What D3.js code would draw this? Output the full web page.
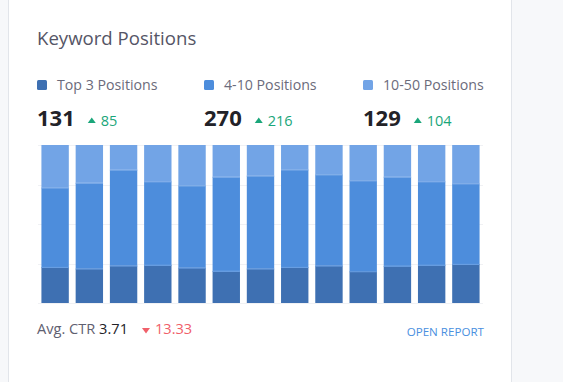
<!DOCTYPE html>
<html>
<head>
<meta charset="utf-8">
<script src="https://cdn.jsdelivr.net/npm/d3@7"></script>
<style>
  html, body { margin: 0; padding: 0; background: #f7f8fa; }
  svg { display: block; font-family: "Open Sans", "Noto Sans", sans-serif; }
</style>
</head>
<body>
<svg id="chart" width="563" height="382"></svg>
<script>
// ---- data ----
const categories = ["1","2","3","4","5","6","7","8","9","10","11","12","13"];
const seriesNames = ["Top 3 Positions", "4-10 Positions", "10-50 Positions"];
const top3 = [22.8, 21.8, 23.7, 24.1, 22.4, 20.3, 21.8, 22.8, 23.7, 20.1, 23.5, 24.1, 24.7];
const pos4to10 = [50.3, 54.3, 60.7, 52.9, 52.0, 59.6, 58.8, 61.7, 57.7, 57.5, 56.4, 52.9, 51.0];
const pos10to50 = [26.9, 23.9, 15.6, 23.0, 25.6, 20.1, 19.4, 15.5, 18.6, 22.4, 20.1, 23.0, 24.3];
const totals = ["131", "270", "129"];
const deltas = ["85", "216", "104"];
const yTicks = [0, 25, 50, 75, 100];
const ctrValue = "3.71";
const ctrDelta = "13.33";

const colors = ["#3e70b2", "#4d8ddc", "#72a4e6"];

const svg = d3.select("#chart");

// card
svg.append("rect").attr("x", 8.5).attr("y", -10).attr("width", 503).attr("height", 400)
  .attr("fill", "#ffffff").attr("stroke", "#e2e5ea");

// title
svg.append("text").attr("x", 37).attr("y", 45).text("Keyword Positions")
  .attr("font-size", 18.6).attr("fill", "#555566");

// legend + totals
const colX = [37, 204, 363];
seriesNames.forEach((name, i) => {
  const x = colX[i];
  svg.append("rect").attr("x", x).attr("y", 80).attr("width", 10).attr("height", 10)
    .attr("rx", 1.5).attr("fill", colors[i]);
  svg.append("text").attr("x", x + 20).attr("y", 89.5).text(name)
    .attr("font-size", 14.2).attr("fill", "#6b6b7b");
  const num = svg.append("text").attr("x", x).attr("y", 126).text(totals[i])
    .attr("font-size", 22).attr("font-weight", 700).attr("fill", "#222228");
  const w = num.node().getComputedTextLength();
  const tx = x + w + 13;
  svg.append("path").attr("d", `M${tx},123 L${tx + 4},117.5 L${tx + 8},123 Z`).attr("fill", "#1aa67a");
  svg.append("text").attr("x", tx + 13).attr("y", 126).text(deltas[i])
    .attr("font-size", 14.5).attr("fill", "#1aa67a");
});

// scales
const x = d3.scaleBand().domain(categories).range([38, 483]).paddingInner(0.2).paddingOuter(0.1);
const y = d3.scaleLinear().domain([0, 100]).range([303, 145]);

// gridlines
svg.append("g").selectAll("line").data(yTicks).join("line")
  .attr("x1", 38).attr("x2", 483)
  .attr("y1", d => Math.round(y(d)) + 0.5).attr("y2", d => Math.round(y(d)) + 0.5)
  .attr("stroke", "#f0f1f4");

// stacked bars
const rows = categories.map((c, i) => ({ cat: c, a: top3[i], b: pos4to10[i], c2: pos10to50[i] }));
const stack = d3.stack().keys(["a", "b", "c2"]);
const layers = stack(rows);
const edge = ["#4a7bbb", "#6aa0e4", "#85b1ea"];
svg.append("g").selectAll("g").data(layers).join("g")
  .attr("fill", (d, i) => colors[i])
  .each(function(layer, li) {
    d3.select(this).selectAll("rect").data(layer).join("rect")
      .attr("x", d => x(d.data.cat))
      .attr("width", x.bandwidth())
      .attr("y", d => y(d[1]))
      .attr("height", d => y(d[0]) - y(d[1]));
    d3.select(this).selectAll("line").data(layer).join("line")
      .attr("x1", d => x(d.data.cat)).attr("x2", d => x(d.data.cat) + x.bandwidth())
      .attr("y1", d => y(d[1]) + 0.5).attr("y2", d => y(d[1]) + 0.5)
      .attr("stroke", li < 2 ? edge[li + 1] : "none").attr("stroke-width", 1);
  });

// footer
const f1 = svg.append("text").attr("x", 37).attr("y", 334).attr("font-size", 14.6);
f1.append("tspan").text("Avg. CTR ").attr("fill", "#5f6070");
f1.append("tspan").text(ctrValue).attr("fill", "#222228");
const fw = f1.node().getComputedTextLength();
const rx = 37 + fw + 14;
svg.append("path").attr("d", `M${rx},328 L${rx + 8},328 L${rx + 4},333.5 Z`).attr("fill", "#f0606a");
svg.append("text").attr("x", rx + 13).attr("y", 334).text(ctrDelta)
  .attr("font-size", 14.6).attr("fill", "#f0606a");

svg.append("text").attr("x", 484).attr("y", 335.5).attr("text-anchor", "end").text("OPEN REPORT")
  .attr("font-size", 11.6).attr("fill", "#4a8fe0");
</script>
</body>
</html>
